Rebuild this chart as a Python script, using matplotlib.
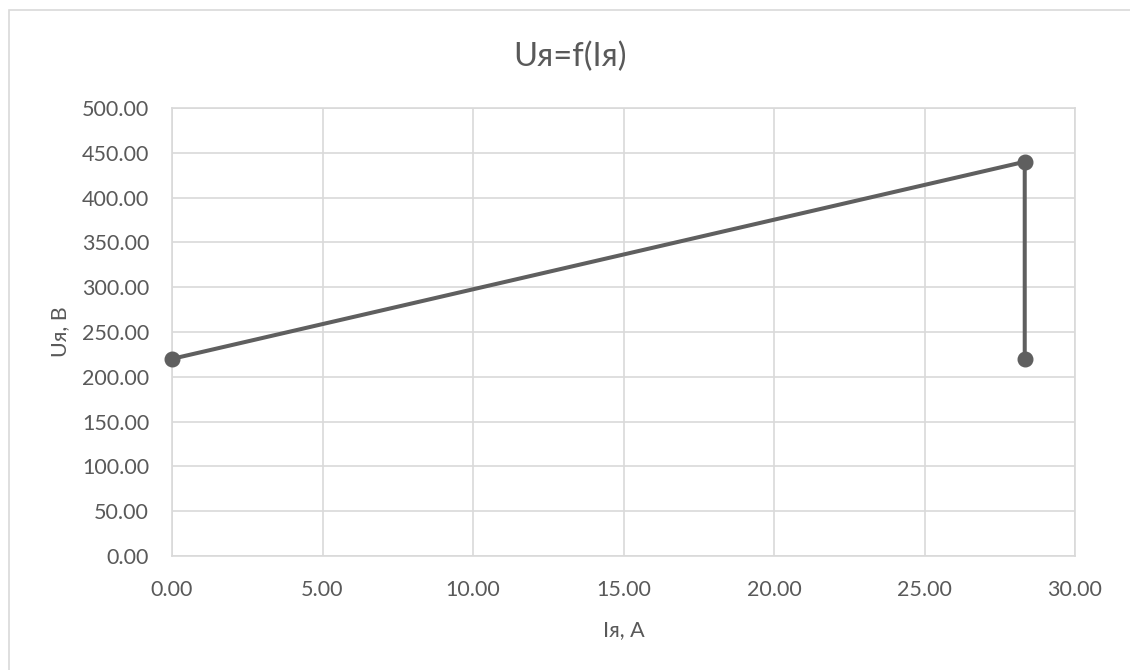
#!/usr/bin/env python3

import matplotlib
matplotlib.use('Agg')
import matplotlib.pyplot as plt
from matplotlib.patches import Rectangle
from matplotlib.ticker import MultipleLocator, FormatStrFormatter

# data
current = [0.0, 28.33, 28.33]      # Iя, A
voltage = [220.0, 440.0, 220.0]    # Uя, B

title = 'Uя=f(Iя)'
x_label = 'Iя, А'
y_label = 'Uя, В'

text_color = '#595959'
line_color = '#5f5f5f'
grid_color = '#d9d9d9'

plt.rcParams['font.family'] = ['Lato', 'Open Sans', 'DejaVu Sans']

W, H = 1130, 670
fig = plt.figure(figsize=(W / 100, H / 100), dpi=100)
ax = fig.add_axes([172 / W, 1 - 556 / H, (1075 - 172) / W, (556 - 108) / H])

# chart border (runs off the right and bottom edges like the reference)
fig.patches.append(Rectangle((9 / W, -0.05), 1.2, 1 - 10 / H + 0.05,
                             transform=fig.transFigure, fill=False,
                             edgecolor='#d9d9d9', linewidth=1.2))

ax.plot(current, voltage, '-o', color=line_color, linewidth=2.9,
        markersize=10.5, zorder=3, clip_on=False)

ax.set_xlim(0, 30)
ax.set_ylim(0, 500)
ax.xaxis.set_major_locator(MultipleLocator(5))
ax.yaxis.set_major_locator(MultipleLocator(50))
ax.xaxis.set_major_formatter(FormatStrFormatter('%.2f'))
ax.yaxis.set_major_formatter(FormatStrFormatter('%.2f'))

ax.grid(True, color=grid_color, linewidth=1.2)
ax.set_axisbelow(True)
for s in ax.spines.values():
    s.set_color(grid_color)
    s.set_linewidth(1.2)

ax.tick_params(length=0, labelsize=15.5, colors=text_color)
ax.tick_params(axis='y', pad=16.5)
ax.tick_params(axis='x', pad=17)

# title is centred on the whole chart area, not the plot area
fig.text(570 / W, 1 - 57 / H, title, fontsize=23.5, color=text_color,
         ha='center', va='center')
ax.set_xlabel(x_label, fontsize=15.5, color=text_color)
ax.set_ylabel(y_label, fontsize=15.5, color=text_color)
ax.xaxis.set_label_coords(0.5, -0.142)
ax.yaxis.set_label_coords(-0.113, 0.5)

fig.savefig('out.png', dpi=100, facecolor='white')
